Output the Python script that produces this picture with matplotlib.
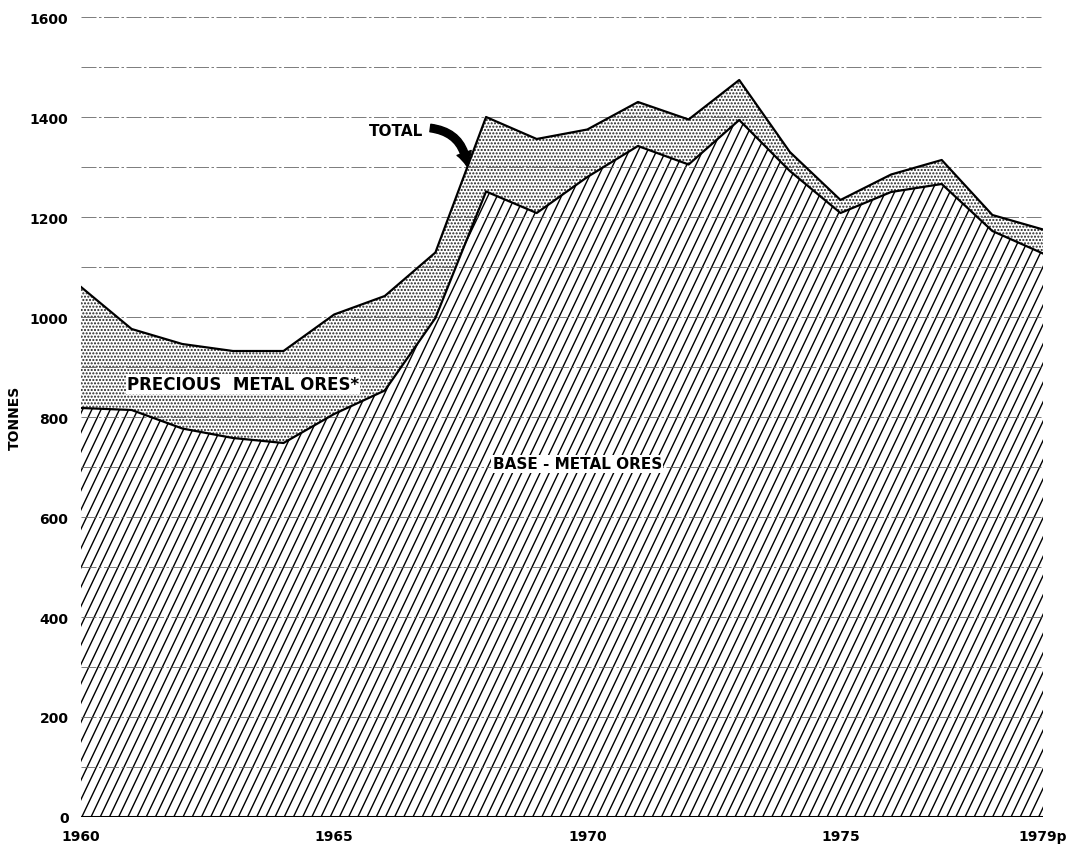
import numpy as np
import matplotlib
matplotlib.use("Agg")
import matplotlib.pyplot as plt
from matplotlib.collections import LineCollection

# Values (tonnes)
years = list(range(1960, 1980))
base_metal = [818, 814, 777, 758, 748, 806, 853, 998, 1251, 1208,
              1280, 1342, 1305, 1394, 1292, 1208, 1250, 1266, 1172, 1127]
total = [1060, 976, 946, 932, 932, 1005, 1042, 1129, 1400, 1356,
         1375, 1430, 1395, 1474, 1330, 1234, 1285, 1314, 1204, 1175]
yticks = [0, 200, 400, 600, 800, 1000, 1200, 1400, 1600]
xticks = [1960, 1965, 1970, 1975, 1979]
xticklabels = ["1960", "1965", "1970", "1975", "1979p"]

plt.rcParams["font.family"] = ["DejaVu Sans"]
plt.rcParams["hatch.linewidth"] = 1.0

W, H = 1069, 845
fig = plt.figure(figsize=(W / 100, H / 100), dpi=100)
ax = fig.add_axes([81 / W, 27 / H, (1043 - 81) / W, (818 - 18) / H])
ax.set_xlim(1960, 1979)
ax.set_ylim(0, 1600)

# grid lines every 100 t, faint, visible through the hatching
for g in range(100, 1700, 100):
    ax.axhline(g, color="#666666", lw=0.6, dashes=(18, 3, 3, 3), zorder=3.5)

# precious metal band (stippled)
ax.fill_between(years, base_metal, total, facecolor="white",
                edgecolor="#222222", hatch=".....", lw=0, zorder=2)

# base-metal area: steep diagonal lines clipped to it
base_poly = ax.fill_between(years, 0, base_metal, facecolor="none",
                            lw=0, zorder=2)
px_per_year = (1043 - 81) / 19.0
px_per_t = (818 - 18) / 1600.0
slope_px = 2.1           # rise/run in pixels
spacing_px = 9.2
run_years = (1600 * px_per_t / slope_px) / px_per_year
starts = np.arange(1960 - run_years - 1, 1980, spacing_px / px_per_year)
segs = [[(x0, 0), (x0 + run_years, 1600)] for x0 in starts]
lc = LineCollection(segs, colors="black", linewidths=1.0, zorder=3)
ax.add_collection(lc)
lc.set_clip_path(base_poly.get_paths()[0], ax.transData)

ax.plot(years, total, color="black", lw=1.6, zorder=4)
ax.plot(years, base_metal, color="black", lw=1.6, zorder=4)
ax.axhline(0, color="black", lw=2.2, zorder=5)

for s in ax.spines.values():
    s.set_visible(False)
ax.set_yticks(yticks)
ax.set_yticklabels([str(v) for v in yticks], fontsize=10, fontweight="bold")
ax.set_xticks(xticks)
ax.set_xticklabels(xticklabels, fontsize=10, fontweight="bold")
ax.tick_params(length=0, pad=9)
ax.set_ylabel("TONNES", fontsize=10, fontweight="bold", labelpad=6)

ax.text(1963.2, 866, "PRECIOUS  METAL ORES*", fontsize=12, fontweight="bold",
        ha="center", va="center", zorder=6,
        bbox=dict(facecolor="white", edgecolor="none", pad=1))
ax.text(1969.8, 706, "BASE - METAL ORES", fontsize=11, fontweight="bold",
        ha="center", va="center", zorder=6,
        bbox=dict(facecolor="white", edgecolor="none", pad=1))
ax.text(1966.75, 1372, "TOTAL", fontsize=11, fontweight="bold",
        ha="right", va="center", zorder=6)
ax.annotate("", xy=(1967.62, 1302), xytext=(1966.9, 1378),
            arrowprops=dict(arrowstyle="simple,tail_width=0.45,head_width=0.9,head_length=0.8",
                            connectionstyle="arc3,rad=-0.4",
                            mutation_scale=12, color="black",
                            shrinkA=0, shrinkB=0),
            zorder=6)

fig.savefig("out.png", dpi=100)
